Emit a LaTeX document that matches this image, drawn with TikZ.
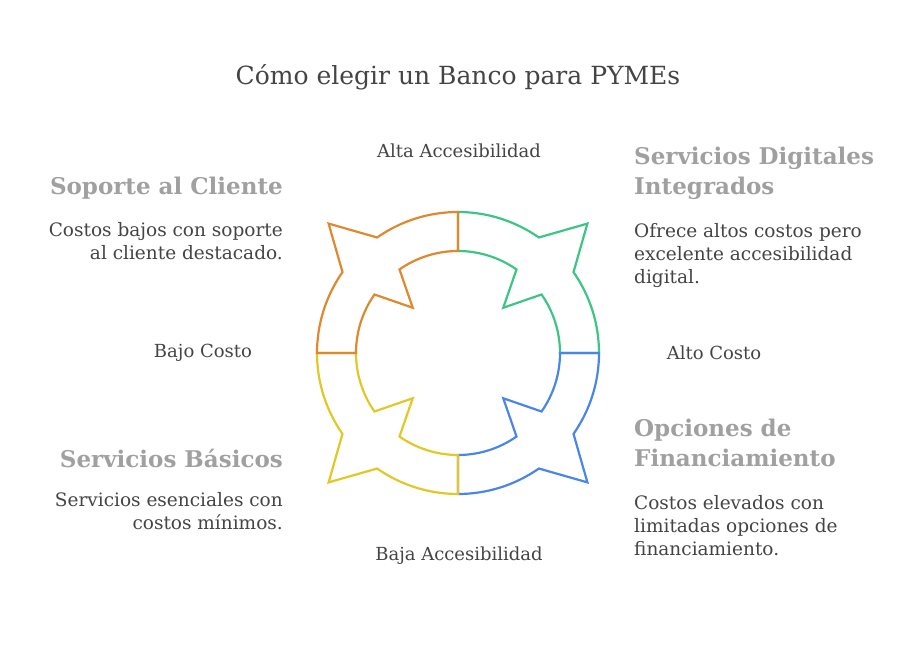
\documentclass[tikz,border=0pt]{standalone}
\usepackage{fontspec}
\setmainfont{DejaVu Serif}
\definecolor{cgreen}{HTML}{3CC585}
\definecolor{cblue}{HTML}{4A86E8}
\definecolor{cyellow}{HTML}{E2C826}
\definecolor{corange}{HTML}{E0882E}
\definecolor{ctext}{HTML}{444444}
\definecolor{chead}{HTML}{A0A0A0}
\tikzset{
  quarter/.style={draw=#1,line width=2.2pt,line join=miter},
  axislabel/.style={text=ctext,font=\fontsize{18}{22}\selectfont},
  heading/.style={text=chead,font=\bfseries\fontsize{23}{30}\selectfont,inner sep=0pt},
  body/.style={text=ctext,font=\fontsize{18.5}{23}\selectfont,inner sep=0pt}
}
\newcommand{\quarterpath}{(90:141) arc(90:55:141) -- (45:183) -- (35:141) arc(35:0:141)
  -- (0:102) arc(0:35:102) -- (45:64) -- (55:102) arc(55:90:102) -- cycle}
\begin{document}
\begin{tikzpicture}[x=1pt,y=1pt]
  \useasboundingbox (0,0) rectangle (918,648);
  \node[text=ctext,font=\fontsize{25}{30}\selectfont] (title) at (458,571) {Cómo elegir un Banco para PYMEs};

  % ring
  \begin{scope}[shift={(458,295)}]
    \draw[quarter=cgreen] \quarterpath;
    \draw[quarter=cblue,rotate=-90] \quarterpath;
    \draw[quarter=cyellow,rotate=180] \quarterpath;
    \draw[quarter=corange,rotate=90] \quarterpath;
  \end{scope}

  \node[axislabel] (alta) at (459,497) {Alta Accesibilidad};
  \node[axislabel] (baja) at (459,92)  {Baja Accesibilidad};
  \node[axislabel] (bajo) at (203,295) {Bajo Costo};
  \node[axislabel] (alto) at (714,295) {Alto Costo};

  \node[heading,anchor=east,align=right] (soporteH) at (283,460) {Soporte al Cliente};
  \node[body,anchor=east,align=right] (soporteB) at (283,406.5) {Costos bajos con soporte\\al cliente destacado.};
  \node[heading,anchor=west,align=left] (digitalH) at (634,475) {Servicios Digitales\\Integrados};
  \node[body,anchor=west,align=left] (digitalB) at (634,392) {Ofrece altos costos pero\\excelente accesibilidad\\digital.};
  \node[heading,anchor=east,align=right] (basicosH) at (283,190) {Servicios Básicos};
  \node[body,anchor=east,align=right] (basicosB) at (283,137) {Servicios esenciales con\\costos mínimos.};
  \node[heading,anchor=west,align=left] (financH) at (634,205) {Opciones de\\Financiamiento};
  \node[body,anchor=west,align=left] (financB) at (634,122.5) {Costos elevados con\\limitadas opciones de\\financiamiento.};
\end{tikzpicture}
\end{document}
